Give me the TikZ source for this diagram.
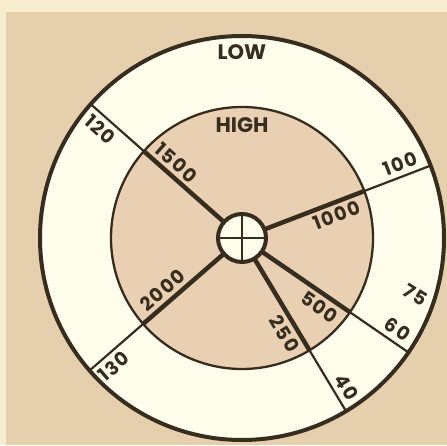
\documentclass[tikz,border=0pt]{standalone}
\usepackage{fontspec}
\usetikzlibrary{calc}
\setmainfont{Poppins}
\newfontfamily\lblfont{Poppins}[LetterSpace=8]
\begin{document}
\begin{tikzpicture}[x=1pt,y=1pt]
\definecolor{bgbeige}{RGB}{229,207,172}
\definecolor{innerbeige}{RGB}{233,208,178}
\definecolor{strip}{RGB}{246,236,206}
\definecolor{cream}{RGB}{255,253,236}
\definecolor{ink}{RGB}{55,45,30}
\tikzset{
  lbl/.style={text=ink, font=\lblfont\bfseries\fontsize{19}{19}\selectfont, inner sep=0pt},
  word/.style={text=ink, font=\bfseries\fontsize{21}{21}\selectfont, inner sep=0pt},
  thickspoke/.style={draw=ink, line width=4.5pt},
  thinspoke/.style={draw=ink, line width=2.2pt},
}
\useasboundingbox (0,0) rectangle (447,445);
\fill[strip] (0,0) rectangle (447,445);
\fill[bgbeige] (6,0) rectangle (447,433);
\coordinate (C) at (242,207);
\begin{scope}[shift={(C)}]
  \fill[cream] (0,0) circle (202);
  \fill[innerbeige] (0,0) circle (131);
  \draw[ink, line width=4pt] (0,0) circle (202);
  \draw[ink, line width=2.3pt] (0,0) circle (131);
  \foreach \n/\a in {a/138.5, b/21, c/-34.5, d/-59, e/221}{
    \coordinate (\n0) at (\a:24);
    \coordinate (\n1) at (\a:131);
    \coordinate (\n2) at (\a:203);
  }
  \foreach \n in {a,b,c,d,e}{
    \draw[thickspoke] (\n0) -- (\n1);
    \draw[thinspoke] (\n1) -- (\n2);
  }
  \fill[cream] (0,0) circle (24);
  \coordinate (hT) at (0,24);
  \coordinate (hB) at (0,-24);
  \coordinate (hL) at (-24,0);
  \coordinate (hR) at (24,0);
  \draw[ink, line width=1.3pt] (hT) -- (hB);
  \draw[ink, line width=1.3pt] (hL) -- (hR);
  \draw[ink, line width=4pt] (0,0) circle (24);
\end{scope}
\node[word] (low) at (242,393) {LOW};
\node[word] (high) at (242,320) {HIGH};
\node[lbl, rotate=-41.5, anchor=north] (l120) at ($(C)+(138.5:178)+(228.5:5.5)$) {120};
\node[lbl, rotate=-41.5, anchor=south] (l1500) at ($(C)+(138.5:99)+(48.5:5.5)$) {1500};
\node[lbl, rotate=21, anchor=south] (l100) at ($(C)+(21:174)+(111:5.5)$) {100};
\node[lbl, rotate=21, anchor=north] (l1000) at ($(C)+(21:97)+(-69:5.5)$) {1000};
\node[lbl, rotate=-34.5, anchor=north] (l500) at ($(C)+(-34.5:103)+(-124.5:5.5)$) {500};
\node[lbl, rotate=-34.5, anchor=south] (l60) at ($(C)+(-34.5:180)+(55.5:5.5)$) {60};
\node[lbl, rotate=-32] (l75) at (415,150) {75};
\node[lbl, rotate=-59, anchor=north] (l250) at ($(C)+(-59:104)+(-149:5.5)$) {250};
\node[lbl, rotate=-59, anchor=south] (l40) at ($(C)+(-59:182)+(31:5.5)$) {40};
\node[lbl, rotate=41, anchor=south] (l2000) at ($(C)+(221:94)+(131:5.5)$) {2000};
\node[lbl, rotate=41, anchor=north] (l130) at ($(C)+(221:181)+(311:5.5)$) {130};
\end{tikzpicture}
\end{document}
